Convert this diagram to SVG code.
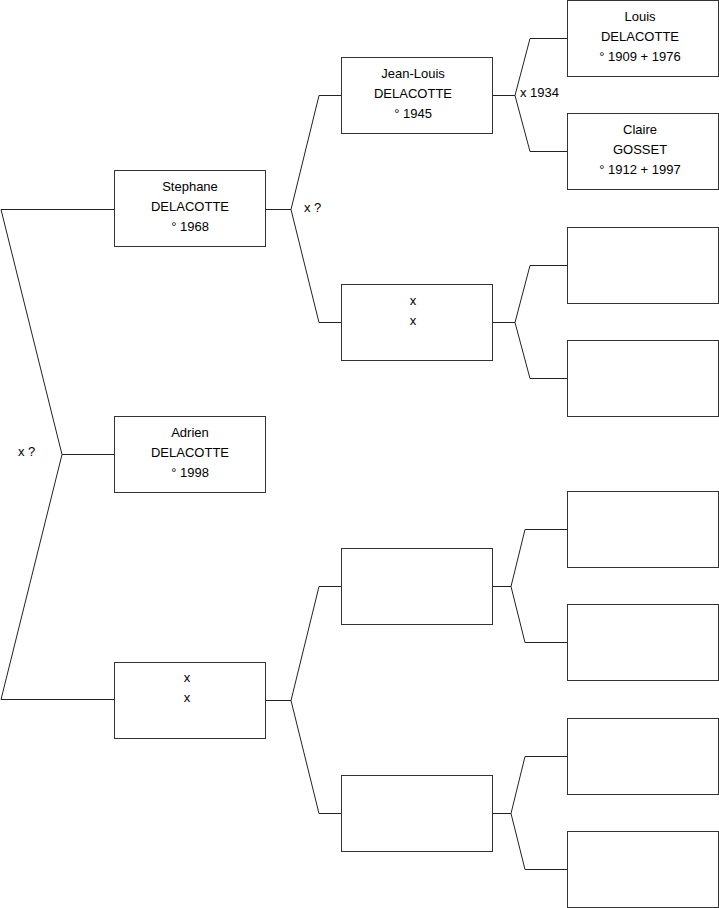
<svg xmlns="http://www.w3.org/2000/svg" width="719" height="908" viewBox="0 0 719 908">
<style>
.box{fill:#fff;stroke:#333;stroke-width:1}
.t{font-family:"Liberation Sans",Arial,sans-serif;font-size:13px;fill:#000;text-anchor:middle}
.l{font-family:"Liberation Sans",Arial,sans-serif;font-size:13px;fill:#000}
.c{fill:none;stroke:#222;stroke-width:1}
</style>
<rect width="719" height="908" fill="#fff"/>
<g id="connectors">
<path class="c" d="M114,209.5 H1 L62,454.5 L1,699.5 H114 M62,454.5 H114"/>
<path class="c" d="M265,209.5 H291 L319,95.5 H341 M291,209.5 L319,322.5 H341"/>
<path class="c" d="M265,700.5 H291 L319,586.5 H341 M291,700.5 L319,813.5 H341"/>
<path class="c" d="M492,95.5 H515 L530,38.5 H567 M515,95.5 L530,151.5 H567"/>
<path class="c" d="M492,322.5 H515 L530,265.5 H567 M515,322.5 L530,378.5 H567"/>
<path class="c" d="M492,586.5 H511 L525,529.5 H567 M511,586.5 L525,642.5 H567"/>
<path class="c" d="M492,813.5 H511 L525,756.5 H567 M511,813.5 L525,869.5 H567"/>
<text class="l" x="18" y="456">x ?</text>
<text class="l" x="304" y="212">x ?</text>
<text class="l" x="520" y="97">x 1934</text>
</g>
<g id="n-stephane"><rect class="box" x="114.5" y="170.5" width="151" height="76"/>
<text class="t" x="190" y="191">Stephane</text><text class="t" x="190" y="211">DELACOTTE</text><text class="t" x="190" y="231">° 1968</text></g>
<g id="n-adrien"><rect class="box" x="114.5" y="416.5" width="151" height="76"/>
<text class="t" x="190" y="437">Adrien</text><text class="t" x="190" y="457">DELACOTTE</text><text class="t" x="190" y="477">° 1998</text></g>
<g id="n-mother"><rect class="box" x="114.5" y="662.5" width="151" height="76"/>
<text class="t" x="187" y="682">x</text><text class="t" x="187" y="702">x</text></g>
<g id="n-jeanlouis"><rect class="box" x="341.5" y="57.5" width="151" height="76"/>
<text class="t" x="413" y="78">Jean-Louis</text><text class="t" x="413" y="98">DELACOTTE</text><text class="t" x="413" y="118">° 1945</text></g>
<g id="n-gm1"><rect class="box" x="341.5" y="284.5" width="151" height="76"/>
<text class="t" x="413" y="305">x</text><text class="t" x="413" y="325">x</text></g>
<g id="n-gf2"><rect class="box" x="341.5" y="548.5" width="151" height="76"/></g>
<g id="n-gm2"><rect class="box" x="341.5" y="775.5" width="151" height="76"/></g>
<g id="n-louis"><rect class="box" x="567.5" y="0.5" width="151" height="76"/>
<text class="t" x="640" y="21">Louis</text><text class="t" x="640" y="41">DELACOTTE</text><text class="t" x="640" y="61">° 1909 + 1976</text></g>
<g id="n-claire"><rect class="box" x="567.5" y="113.5" width="151" height="76"/>
<text class="t" x="640" y="134">Claire</text><text class="t" x="640" y="154">GOSSET</text><text class="t" x="640" y="174">° 1912 + 1997</text></g>
<g id="n-ggf3"><rect class="box" x="567.5" y="227.5" width="151" height="76"/></g>
<g id="n-ggm3"><rect class="box" x="567.5" y="340.5" width="151" height="76"/></g>
<g id="n-ggf5"><rect class="box" x="567.5" y="491.5" width="151" height="76"/></g>
<g id="n-ggm5"><rect class="box" x="567.5" y="604.5" width="151" height="76"/></g>
<g id="n-ggf7"><rect class="box" x="567.5" y="718.5" width="151" height="76"/></g>
<g id="n-ggm7"><rect class="box" x="567.5" y="831.5" width="151" height="76"/></g>
</svg>
